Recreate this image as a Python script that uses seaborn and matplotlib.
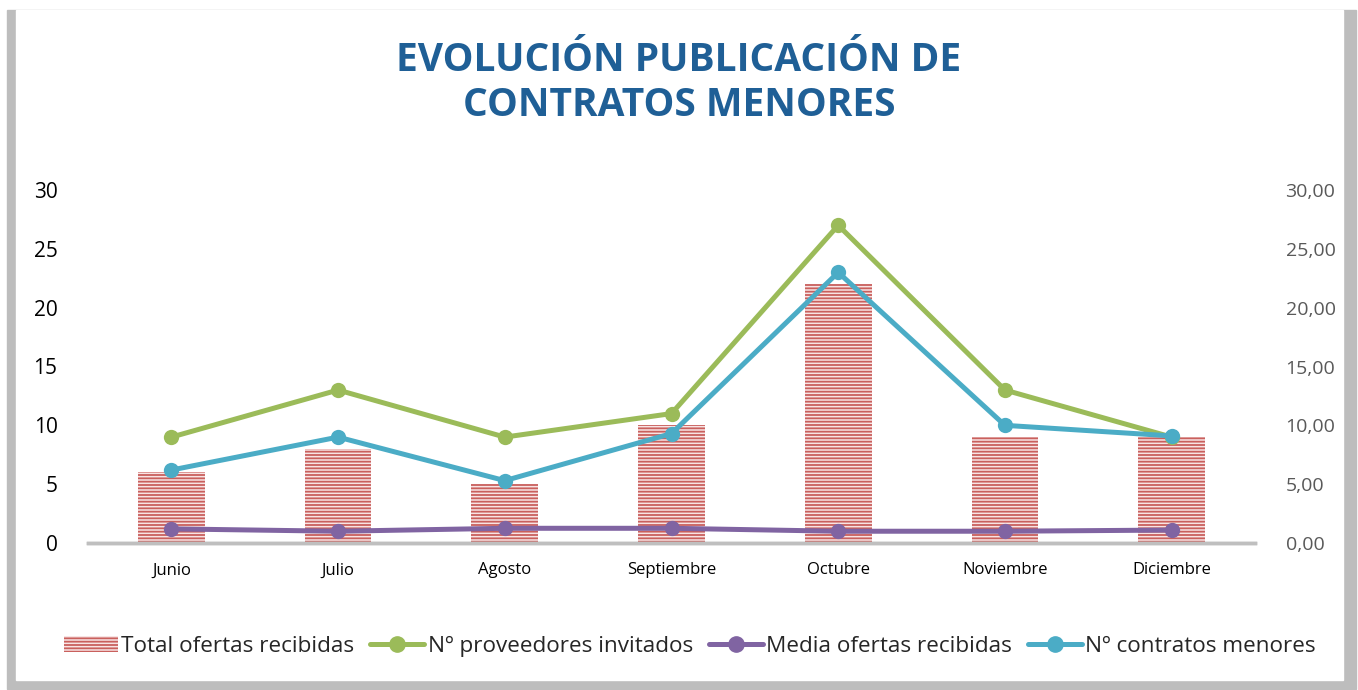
import numpy as np
import pandas as pd
import matplotlib
matplotlib.use("Agg")
import matplotlib.pyplot as plt
import matplotlib.patches as mpatches
from matplotlib.lines import Line2D
from matplotlib.ticker import FuncFormatter
import seaborn as sns

# ==========================================================
# DATA
# ==========================================================

meses = ["Junio", "Julio", "Agosto", "Septiembre", "Octubre", "Noviembre", "Diciembre"]
total_ofertas = [6, 8, 5, 10, 22, 9, 9]
proveedores_invitados = [9, 13, 9, 11, 27, 13, 9]
media_ofertas = [1.2, 1.0, 1.25, 1.25, 1.0, 1.0, 1.1]
contratos_menores = [6.2, 9.0, 5.3, 9.3, 23.0, 10.0, 9.1]

RED = "#C9605D"
GREEN = "#9BBB59"
PURPLE = "#8064A2"
CYAN = "#4BACC6"
TITLE_BLUE = "#1F5F96"

# ==========================================================
# FIGURE
# ==========================================================

sns.set_style("white")
plt.rcParams["font.family"] = ["Open Sans", "DejaVu Sans"]
plt.rcParams["hatch.linewidth"] = 1.3
plt.rcParams["hatch.color"] = RED

fig = plt.figure(figsize=(13.58, 6.9), dpi=100)

# panel frame with shadow
fig.patches.append(mpatches.Rectangle(
    (7 / 1358, 1 - 689 / 690), 1349 / 1358, 679 / 690,
    transform=fig.transFigure, color="#BDBDBD", zorder=0))
fig.patches.append(mpatches.Rectangle(
    (16 / 1358, 1 - 680 / 690), 1327 / 1358, 670 / 690,
    transform=fig.transFigure, color="white", zorder=1))

ax = fig.add_axes([88 / 1358, 1 - 543 / 690, 1167 / 1358, 353 / 690])
ax.set_zorder(2)
ax.patch.set_alpha(0)

df = pd.DataFrame({"mes": meses, "total": total_ofertas})

sns.barplot(
    data=df, x="mes", y="total", ax=ax,
    color="#F8E4E4", width=0.4, edgecolor=RED, linewidth=0,
    hatch="-----", saturation=1
)

pos = np.arange(len(meses))

sns.lineplot(
    x=pos, y=proveedores_invitados, ax=ax, color=GREEN,
    linewidth=3.6, marker="o", markersize=11, markeredgewidth=0
)

ax2 = ax.twinx()

sns.lineplot(
    x=pos, y=media_ofertas, ax=ax2, color=PURPLE,
    linewidth=3.6, marker="o", markersize=11, markeredgewidth=0
)
sns.lineplot(
    x=pos, y=contratos_menores, ax=ax2, color=CYAN,
    linewidth=3.6, marker="o", markersize=11, markeredgewidth=0
)

for a in (ax, ax2):
    a.set_ylim(0, 30)
    a.set_xlim(-0.5, len(meses) - 0.5)
    a.set_yticks(np.arange(0, 31, 5))
    for s in ["top", "left", "right"]:
        a.spines[s].set_visible(False)
    a.spines["bottom"].set_color("#BFBFBF")
    a.spines["bottom"].set_linewidth(2.5)
    a.set_xlabel("")
    a.set_ylabel("")
    a.grid(False)

ax.tick_params(axis="y", length=0, labelsize=15, labelcolor="black", pad=22)
ax.tick_params(axis="x", length=0, labelsize=12, labelcolor="black", pad=14)
ax2.tick_params(axis="y", length=0, labelsize=14, labelcolor="#595959", pad=22)
ax2.yaxis.set_major_formatter(FuncFormatter(lambda v, p: f"{v:.2f}".replace(".", ",")))

# ==========================================================
# TITLE
# ==========================================================

fig.text(
    0.5, 1 - 83 / 690, "EVOLUCIÓN PUBLICACIÓN DE\nCONTRATOS MENORES",
    ha="center", va="center", fontsize=28, fontweight="bold",
    color=TITLE_BLUE, linespacing=1.22
)

# ==========================================================
# LEGEND
# ==========================================================

handles = [
    mpatches.Patch(facecolor="#F8E4E4", edgecolor=RED, linewidth=0, hatch="-----"),
    Line2D([], [], color=GREEN, linewidth=3.6, marker="o", markersize=11),
    Line2D([], [], color=PURPLE, linewidth=3.6, marker="o", markersize=11),
    Line2D([], [], color=CYAN, linewidth=3.6, marker="o", markersize=11),
]
labels = [
    "Total ofertas recibidas",
    "Nº proveedores invitados",
    "Media ofertas recibidas",
    "Nº contratos menores",
]

fig.legend(
    handles, labels, loc="center", bbox_to_anchor=(0.508, 1 - 646 / 690),
    ncol=4, frameon=False, fontsize=16.2, handlelength=2.4,
    handletextpad=0.15, columnspacing=0.7
)

fig.savefig("out.png", dpi=100)
plt.close(fig)
